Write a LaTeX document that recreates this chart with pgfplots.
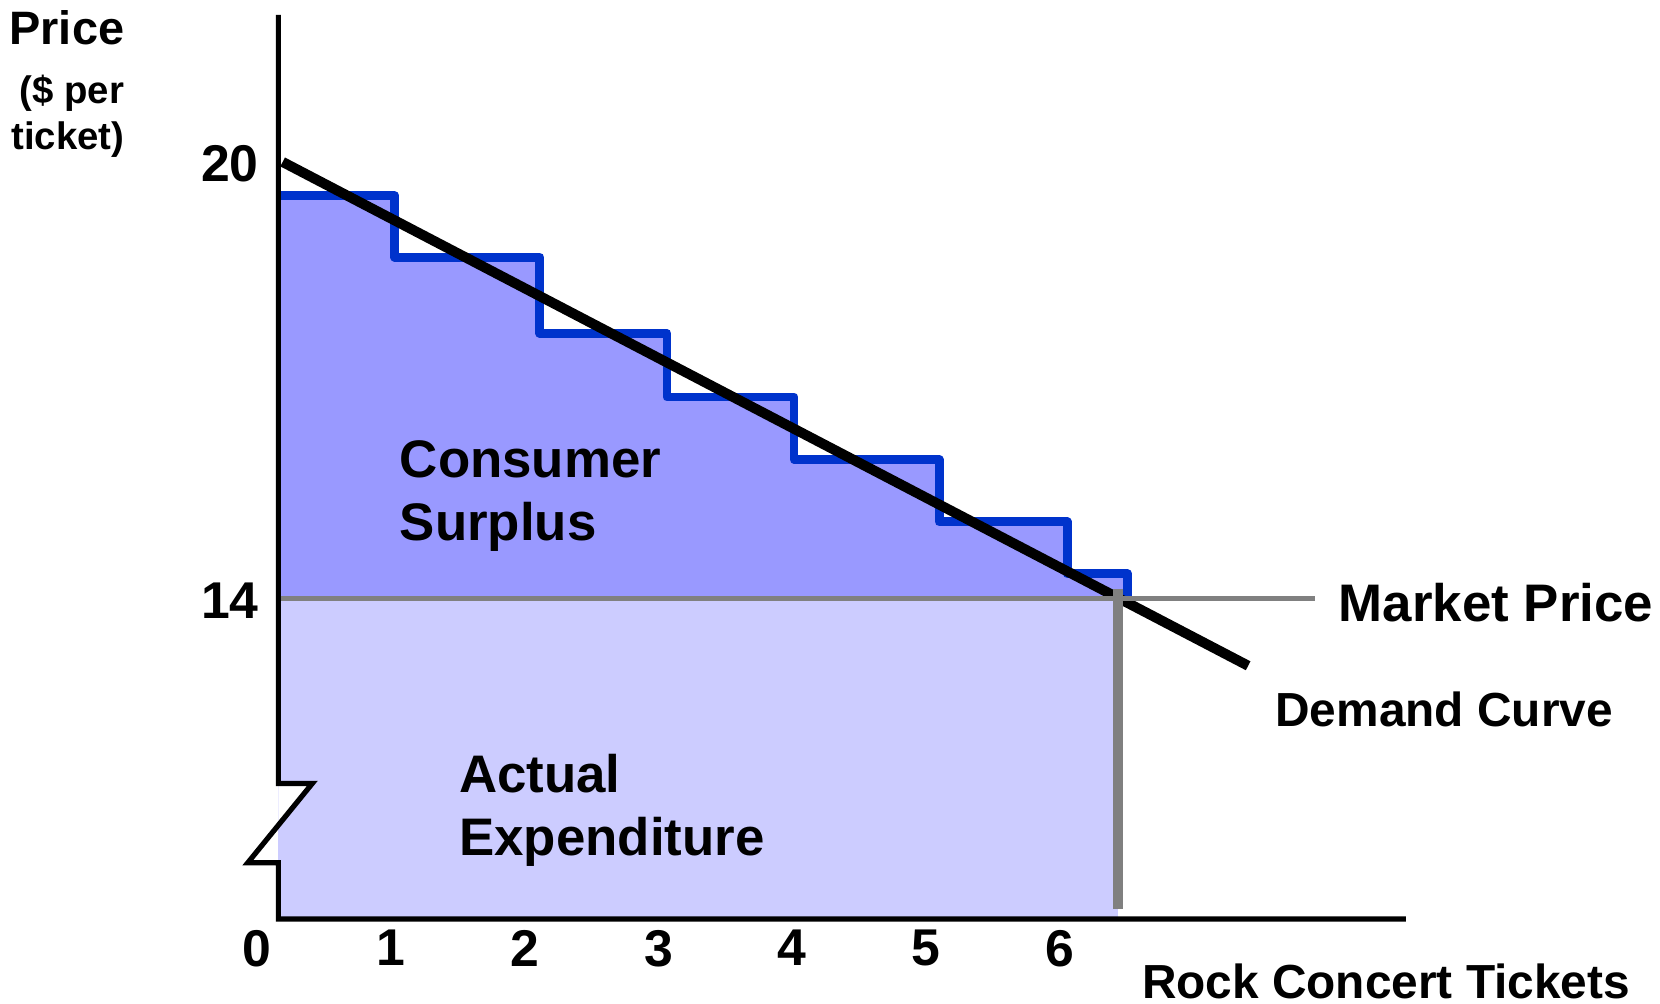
\documentclass[border=0pt]{standalone}
\usepackage{fontspec}
\setmainfont{Liberation Sans}
\usepackage{pgfplots}
\pgfplotsset{compat=1.18}
\definecolor{stepblue}{RGB}{0,51,204}
\definecolor{surplus}{RGB}{153,153,255}
\definecolor{expend}{RGB}{204,204,255}
\definecolor{mgray}{RGB}{128,128,128}
\begin{document}
\begin{tikzpicture}
\useasboundingbox (0,0) rectangle (15.68,9.48);
\begin{axis}[
  at={(2.43cm,0.80cm)}, anchor=south west,
  width=10.85cm, height=8.54cm, scale only axis,
  xmin=0, xmax=8.59, ymin=9.588, ymax=22.024,
  clip=false,
  axis line style={draw=none},
  tick style={draw=none},
  major tick length=0pt,
  xtick={0,1,2,3,4,5,6}, ytick={14,20},
  /pgf/number format/assume math mode=true,
  tick label style={font=\fontsize{13.9}{16}\selectfont\bfseries, inner sep=0pt},
  xticklabel style={anchor=north, yshift=-0.1cm},
  yticklabel style={anchor=east, xshift=0.02cm, yshift=-0.02cm},
]
% actual expenditure
\addplot[draw=none, fill=expend] coordinates {(0.158,9.588) (6.437,9.588) (6.437,14) (0.158,14)} -- cycle;
% consumer surplus
\addplot[draw=none, fill=surplus] coordinates {
 (0.158,14) (0.158,19.534) (1.029,19.534) (1.029,18.689) (2.114,18.689) (2.114,17.641)
 (3.064,17.641) (3.064,16.767) (4.014,16.767) (4.014,15.908) (5.099,15.908) (5.099,15.049)
 (6.057,15.049) (6.057,14.335) (6.508,14.335) (6.508,14)} -- cycle;
% steps
\addplot[stepblue, line width=2.4pt, line join=round] coordinates {
 (0.158,19.534) (1.029,19.534) (1.029,18.689) (2.114,18.689) (2.114,17.641)
 (3.064,17.641) (3.064,16.767) (4.014,16.767) (4.014,15.908) (5.099,15.908) (5.099,15.049)
 (6.057,15.049) (6.057,14.335) (6.508,14.335) (6.508,14.0)};
% demand curve
\addplot[black, line width=2.7pt] coordinates {(0.19,20.0) (7.41,13.07)};
% market price line
\addplot[mgray, line width=1.35pt] coordinates {(0.158,14) (7.91,14)};
% vertical quantity line
\addplot[mgray, line width=2.7pt] coordinates {(6.437,14.13) (6.437,9.73)};
% axis break white area
\addplot[draw=none, fill=white] coordinates {(0.158,11.452) (0.412,11.452) (0.158,10.884)} -- cycle;
% axes
\addplot[black, line width=1.4pt, line join=miter] coordinates {
 (0.158,22.024) (0.158,11.452) (0.412,11.452) (-0.071,10.36) (0.158,10.36) (0.158,9.588) (8.59,9.588)};
\end{axis}
\begin{scope}[font=\bfseries, inner sep=0pt]
\node[anchor=base east, font=\fontsize{12.6}{14}\selectfont\bfseries] at (1.18,9.055) {Price};
\node[anchor=base east, font=\fontsize{10.3}{12}\selectfont\bfseries] at (1.18,8.50) {(\$ per};
\node[anchor=base east, font=\fontsize{10.3}{12}\selectfont\bfseries] at (1.18,8.07) {ticket)};
\node[anchor=base west, font=\fontsize{14.2}{17}\selectfont\bfseries] at (3.77,4.97) {Consumer};
\node[anchor=base west, font=\fontsize{14.2}{17}\selectfont\bfseries] at (3.77,4.37) {Surplus};
\node[anchor=base west, font=\fontsize{14.2}{17}\selectfont\bfseries] at (4.33,1.99) {Actual};
\node[anchor=base west, font=\fontsize{14.2}{17}\selectfont\bfseries] at (4.33,1.40) {Expenditure};
\node[anchor=base west, font=\fontsize{14.2}{17}\selectfont\bfseries] at (12.64,3.61) {Market Price};
\node[anchor=base west, font=\fontsize{12.85}{15}\selectfont\bfseries] at (12.04,2.62) {Demand Curve};
\node[anchor=base west, font=\fontsize{12.85}{15}\selectfont\bfseries] at (10.78,0.05) {Rock Concert Tickets};
\end{scope}
\end{tikzpicture}
\end{document}
